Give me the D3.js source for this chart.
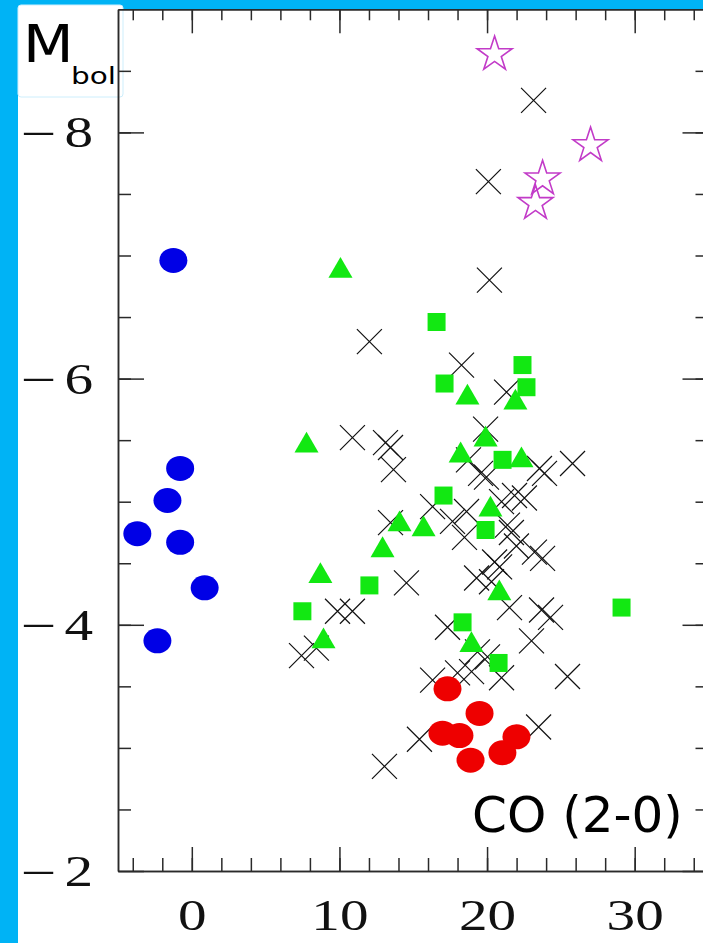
<!DOCTYPE html>
<html>
<head>
<meta charset="utf-8">
<script src="https://cdn.jsdelivr.net/npm/d3@7"></script>
<style>
  body { margin: 0; background: #fff; }
  svg { display: block; }
</style>
</head>
<body>
<script>
// values: [CO (2-0) index, M_bol]
const blueCircles = [[-1.25,-6.96],[-0.79,-5.27],[-1.65,-5.01],[-3.69,-4.74],[-0.79,-4.67],[0.87,-4.30],[-2.33,-3.87]];
const redCircles = [[17.32,-3.48],[19.49,-3.28],[16.98,-3.12],[18.13,-3.10],[18.88,-2.90],[21.99,-3.09],[21.04,-2.96]];
const stars = [[20.51,-8.65],[27.01,-7.91],[23.76,-7.64],[23.28,-7.44]];
const squares = [[16.58,-6.46],[17.12,-5.96],[22.40,-6.11],[22.67,-5.93],[21.05,-5.34],[17.05,-5.05],[19.90,-4.77],
                 [12.03,-4.32],[7.49,-4.11],[18.34,-4.02],[20.78,-3.69],[29.11,-4.14]];
const triangles = [[10.07,-6.90],[7.77,-5.48],[18.67,-5.87],[21.92,-5.83],[19.90,-5.53],[18.21,-5.40],[22.33,-5.36],
                   [14.07,-4.84],[15.70,-4.80],[20.23,-4.96],[12.92,-4.63],[8.71,-4.42],[20.83,-4.28],[18.94,-3.86],[8.92,-3.89]];
const crosses = [[23.15,-8.26],[20.09,-7.60],[20.16,-6.80],[12.03,-6.30],[18.27,-6.11],[21.32,-5.89],[19.90,-5.59],
                 [10.88,-5.52],[13.12,-5.48],[13.46,-5.44],[13.66,-5.26],[25.79,-5.31],[23.55,-5.27],[23.89,-5.23],
                 [18.74,-5.34],[19.56,-5.23],[19.96,-5.20],[16.31,-4.96],[17.66,-4.84],[18.61,-4.92],[18.47,-4.71],
                 [20.98,-5.00],[21.86,-5.05],[22.53,-5.03],[21.38,-4.81],[21.65,-4.75],[21.99,-4.64],[23.21,-4.59],
                 [23.76,-4.54],[20.51,-4.51],[20.85,-4.47],[19.29,-4.38],[20.30,-4.35],[14.54,-4.34],[13.46,-4.83],
                 [21.52,-4.14],[23.69,-4.12],[24.30,-4.06],[17.32,-3.98],[23.01,-3.87],[25.45,-3.58],[16.31,-3.55],
                 [18.00,-3.61],[18.95,-3.62],[19.35,-3.78],[20.03,-3.74],[20.98,-3.57],[23.49,-3.17],[15.42,-3.07],
                 [13.05,-2.85],[9.87,-4.11],[10.88,-4.11],[7.43,-3.75],[8.44,-3.81]];

const xMajor = [0, 10, 20, 30];
const xMinor = d3.range(-4, 35, 2);
const yMajor = [-8, -6, -4, -2];
const yMinor = d3.range(-8.5, -2, 0.5);

const W = 703, H = 943;
const frameBlue = "#00b3f5";

const svg = d3.select("body").append("svg")
    .attr("width", W)
    .attr("height", H);

svg.append("rect").attr("width", W).attr("height", H).attr("fill", "#fff");
// blue border of the slide
svg.append("rect").attr("x", 0).attr("y", 0).attr("width", 18).attr("height", H).attr("fill", frameBlue);
svg.append("rect").attr("x", 0).attr("y", 0).attr("width", W).attr("height", 9).attr("fill", frameBlue);

const x = d3.scaleLinear().domain([-5, 35]).range([118, 708.5]);
const y = d3.scaleLinear().domain([-9, -2]).range([9.3, 871]);

// white label box for M_bol
svg.append("rect")
    .attr("x", 18).attr("y", 5)
    .attr("width", 105).attr("height", 92)
    .attr("rx", 3)
    .attr("fill", "#fff")
    .attr("stroke", "#cdeefc")
    .attr("stroke-width", 1);

// axes: ticks point inwards, minor + major
function styleAxis(g) {
    g.selectAll("path, line").attr("stroke", "#2a2a2a").attr("stroke-width", 1.5);
}

const yBottom = y(-2), yTop = y(-9), xLeft = x(-5), xRight = x(35);

svg.append("g").attr("transform", `translate(0,${yBottom})`)
    .call(d3.axisBottom(x).tickValues(xMinor).tickSizeInner(-13).tickSizeOuter(0).tickFormat(""))
    .call(styleAxis);
const xAxisMajor = svg.append("g").attr("transform", `translate(0,${yBottom})`)
    .call(d3.axisBottom(x).tickValues(xMajor).tickSizeInner(-24).tickSizeOuter(0).tickFormat(d3.format("d")))
    .call(styleAxis);
svg.append("g").attr("transform", `translate(0,${yTop})`)
    .call(d3.axisTop(x).tickValues(xMinor).tickSizeInner(-11).tickSizeOuter(0).tickFormat(""))
    .call(styleAxis);
svg.append("g").attr("transform", `translate(0,${yTop})`)
    .call(d3.axisTop(x).tickValues(xMajor).tickSizeInner(-24).tickSizeOuter(0).tickFormat(""))
    .call(styleAxis);

svg.append("g").attr("transform", `translate(${xLeft},0)`)
    .call(d3.axisLeft(y).tickValues(yMinor).tickSizeInner(-13).tickSizeOuter(0).tickFormat(""))
    .call(styleAxis);
const yAxisMajor = svg.append("g").attr("transform", `translate(${xLeft},0)`)
    .call(d3.axisLeft(y).tickValues(yMajor).tickSizeInner(-26).tickSizeOuter(0).tickFormat(""))
    .call(styleAxis);
svg.append("g").attr("transform", `translate(${xRight},0)`)
    .call(d3.axisRight(y).tickValues(yMinor).tickSizeInner(-13).tickSizeOuter(0).tickFormat(""))
    .call(styleAxis);
svg.append("g").attr("transform", `translate(${xRight},0)`)
    .call(d3.axisRight(y).tickValues(yMajor).tickSizeInner(-26).tickSizeOuter(0).tickFormat(""))
    .call(styleAxis);

// tick labels in a wide thin serif, like the plotting package font
xAxisMajor.selectAll("text")
    .attr("y", 59).attr("dy", 0)
    .attr("transform", "scale(1.3,1)")
    .style("font-family", "'Liberation Serif', serif")
    .style("font-size", "44px")
    .attr("fill", "#111");

// y labels: long dash for the minus sign, then the digit
const yLab = yAxisMajor.selectAll(".tick text")
    .attr("x", -25 / 1.3).attr("dy", null)
    .attr("transform", "scale(1.3,1)")
    .style("font-family", "'Liberation Serif', serif")
    .style("font-size", "44px")
    .attr("fill", "#111");
yLab.append("tspan").attr("dy", "0.25em").text("\u2013");
yLab.append("tspan").attr("dy", "0.08em").text(d => "\u2009" + Math.abs(d));

// markers
const marks = svg.append("g");

marks.selectAll(".cross").data(crosses).join("path")
    .attr("class", "cross")
    .attr("transform", d => `translate(${x(d[0])},${y(d[1])})`)
    .attr("d", "M-12.5,-12.5L12.5,12.5M-12.5,12.5L12.5,-12.5")
    .attr("stroke", "#111")
    .attr("stroke-width", 1.2)
    .attr("fill", "none");

marks.selectAll(".sq").data(squares).join("path")
    .attr("class", "sq")
    .attr("transform", d => `translate(${x(d[0])},${y(d[1])})`)
    .attr("d", d3.symbol(d3.symbolSquare, 18 * 18))
    .attr("fill", "#12e812");

marks.selectAll(".tri").data(triangles).join("path")
    .attr("class", "tri")
    .attr("transform", d => `translate(${x(d[0])},${y(d[1]) + 3})`)
    .attr("d", d3.symbol(d3.symbolTriangle, 250))
    .attr("fill", "#12e812");

marks.selectAll(".blue").data(blueCircles).join("ellipse")
    .attr("class", "blue")
    .attr("cx", d => x(d[0])).attr("cy", d => y(d[1]))
    .attr("rx", 14).attr("ry", 12.5)
    .attr("fill", "#0000e6");

marks.selectAll(".red").data(redCircles).join("ellipse")
    .attr("class", "red")
    .attr("cx", d => x(d[0])).attr("cy", d => y(d[1]))
    .attr("rx", 14).attr("ry", 12.5)
    .attr("fill", "#ee0000");

marks.selectAll(".star").data(stars).join("path")
    .attr("class", "star")
    .attr("transform", d => `translate(${x(d[0])},${y(d[1]) + 2})`)
    .attr("d", d3.symbol(d3.symbolStar, 380))
    .attr("fill", "none")
    .attr("stroke", "#c23bc8")
    .attr("stroke-width", 1.6);

// texts
svg.append("text")
    .attr("transform", "translate(23,62) scale(1.15,1)")
    .style("font-family", "'DejaVu Sans', sans-serif")
    .style("font-size", "51px")
    .attr("fill", "#000")
    .text("M");
svg.append("text")
    .attr("x", 71).attr("y", 84)
    .attr("textLength", 45).attr("lengthAdjust", "spacingAndGlyphs")
    .style("font-family", "'DejaVu Sans', sans-serif")
    .style("font-size", "23px")
    .attr("fill", "#000")
    .text("bol");

svg.append("text")
    .attr("x", 472).attr("y", 832)
    .style("font-family", "'DejaVu Sans', sans-serif")
    .style("font-size", "50px")
    .attr("fill", "#000")
    .text("CO (2-0)");
</script>
</body>
</html>
